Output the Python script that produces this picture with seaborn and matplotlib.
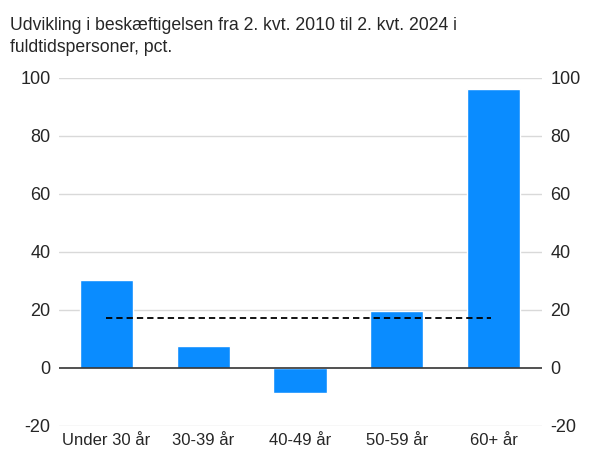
import matplotlib
matplotlib.use("Agg")
import matplotlib.pyplot as plt
import pandas as pd
import seaborn as sns

categories = ["Under 30 år", "30-39 år", "40-49 år", "50-59 år", "60+ år"]
values = [30.2, 7.6, -8.7, 19.8, 96.3]
average = 17.3
yticks = [-20, 0, 20, 40, 60, 80, 100]

sns.set_style("white")
plt.rcParams["font.family"] = ["Liberation Sans", "DejaVu Sans"]
plt.rcParams["axes.unicode_minus"] = False

df = pd.DataFrame({"gruppe": categories, "pct": values})

fig = plt.figure(figsize=(5.93, 4.54), dpi=100)
ax = fig.add_axes([0.0995, 0.0617, 0.8145, 0.7665])

for y in yticks:
    if y != 0:
        ax.axhline(y, color="#d9d9d9", lw=1, zorder=0)
ax.axhline(0, color="#333333", lw=1.2, zorder=3)

sns.barplot(data=df, x="gruppe", y="pct", color="#0a8cff", saturation=1,
            width=0.55, ax=ax, zorder=2)
ax.hlines(average, 0, len(categories) - 1.03, colors="black",
          linestyles=(0, (3.5, 2.2)), lw=1.3, zorder=4)

ax.set_xlim(-0.49, 4.5)
ax.set_ylim(-20, 100)
ax.set_yticks(yticks)
ax.set_xlabel("")
ax.set_ylabel("")
for s in ax.spines.values():
    s.set_visible(False)
ax.tick_params(axis="both", length=0, labelsize=13, pad=6)
ax.tick_params(axis="x", labelsize=12, pad=5)
ax.yaxis.set_ticks_position("left")

ax2 = ax.twinx()
ax2.set_ylim(ax.get_ylim())
ax2.set_yticks(yticks)
for s in ax2.spines.values():
    s.set_visible(False)
ax2.tick_params(axis="y", length=0, labelsize=13, pad=6)
ax2.grid(False)

fig.text(0.017, 0.962, "Udvikling i beskæftigelsen fra 2. kvt. 2010 til 2. kvt. 2024 i\nfuldtidspersoner, pct.",
         ha="left", va="top", fontsize=12.7, linespacing=1.38)

fig.savefig("out.png", dpi=100)
